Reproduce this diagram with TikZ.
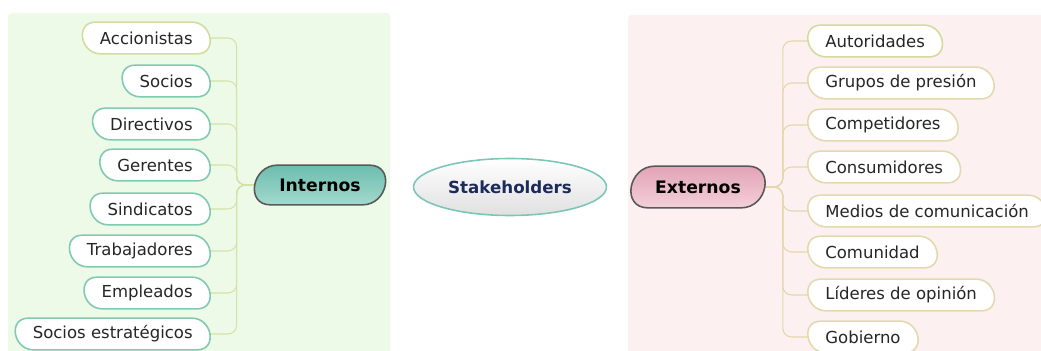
\documentclass[tikz,border=0pt]{standalone}
\usepackage{fontspec}
\setmainfont{DejaVu Sans}
\usetikzlibrary{shapes,shapes.geometric,calc}

\definecolor{ingreen}{HTML}{EEFAE8}
\definecolor{expink}{HTML}{FDF0F1}
\definecolor{inline}{HTML}{D3E3A6}
\definecolor{exline}{HTML}{E2D8AA}
\definecolor{tealline}{HTML}{80CBB0}
\definecolor{limeline}{HTML}{D3DC9C}
\definecolor{tanline}{HTML}{E2DAAE}
\definecolor{tealdark}{HTML}{6CBDAE}
\definecolor{teallight}{HTML}{A3DACE}
\definecolor{pinkdark}{HTML}{E2A3B5}
\definecolor{pinklight}{HTML}{F4D0DA}
\definecolor{navy}{HTML}{1C2A5C}
\definecolor{ellline}{HTML}{7CC6B7}

\pgfdeclarelayer{panel}
\pgfdeclarelayer{outline}
\pgfsetlayers{panel,outline,main}

% leaf outline, leaning like "\": #1 node, #2 half height, #3 lean, #4 style
\newcommand{\leafline}[4]{%
  \begin{pgfonlayer}{outline}
    \path[#4] ($(#1.north west)+(#2-#3,0)$) -- ($(#1.north east)+(-#2-#3,0)$)
      .. controls +(1.33*#2,0) and +(1.33*#2,0) .. ($(#1.south east)+(-#2+#3,0)$)
      -- ($(#1.south west)+(#2+#3,0)$)
      .. controls +(-1.33*#2,0) and +(-1.33*#2,0) .. ($(#1.north west)+(#2-#3,0)$) -- cycle;
  \end{pgfonlayer}}

\begin{document}
\begin{tikzpicture}[x=0.02cm,y=-0.02cm]
				\tikzstyle{leaf}=[font=\fontsize{9.4}{11}\selectfont, text=black!85, inner xsep=0.34cm, inner ysep=0pt, minimum height=0.62cm]
				\tikzstyle{hub}=[font=\bfseries\fontsize{9.8}{12}\selectfont, inner sep=0pt, minimum width=2.6cm, minimum height=0.78cm]
				\tikzstyle{leafedge}=[line width=0.9pt, fill=white]
				\tikzstyle{hubedge}=[line width=0.9pt, draw=black!65]
				\tikzstyle{lbranch}=[draw=inline, line width=0.6pt, rounded corners=5pt]
				\tikzstyle{rbranch}=[draw=exline, line width=0.6pt, rounded corners=5pt]
				\useasboundingbox (0,0) rectangle (1041,351);

				% the two side panels
				\begin{pgfonlayer}{panel}
					\fill[ingreen, rounded corners=2pt] (8,13) rectangle (390,360);
					\fill[expink, rounded corners=2pt] (628,15) rectangle (1050,360);
				\end{pgfonlayer}

				% centre
				\node[ellipse, draw=ellline, line width=0.9pt, top color=white, bottom color=black!12,
					minimum width=3.86cm, minimum height=1.14cm, inner sep=0pt,
					font=\bfseries\fontsize{9.5}{12}\selectfont, text=navy] (stk) at (510,187) {Stakeholders};

				% internal side
				\node[hub] (int) at (320,185) {Internos};
				\leafline{int}{11pt}{-2pt}{hubedge, top color=tealdark, bottom color=teallight}
				\foreach \n/\t/\y/\c in {acc/Accionistas/38/limeline, soc/Socios/81/tealline,
					dir/Directivos/124/tealline, ger/Gerentes/165/tealline, sin/Sindicatos/209/tealline,
					tra/Trabajadores/251/tealline, emp/Empleados/293/tealline,
					est/Socios estratégicos/334/tealline}{
					\node[leaf, anchor=east] (\n) at (210,\y) {\t};
					\leafline{\n}{8.8pt}{1.5pt}{leafedge, draw=\c}
					\begin{pgfonlayer}{panel}
						\path[lbranch] (\n.east) -| ([xshift=-0.36cm]int.west) -- (int.west);
					\end{pgfonlayer}
				}

				% external side
				\node[hub, minimum width=2.66cm, minimum height=0.82cm] (ext) at (698,187) {Externos};
				\leafline{ext}{11.5pt}{-2pt}{hubedge, top color=pinkdark, bottom color=pinklight}
				\foreach \n/\t/\y/\c in {aut/Autoridades/41/limeline, gru/Grupos de presión/83/tanline,
					cpt/Competidores/125/tanline, con/Consumidores/167/tanline,
					med/Medios de comunicación/211/tanline, cmn/Comunidad/252/tanline,
					lid/Líderes de opinión/295/tanline, gob/Gobierno/337/tanline}{
					\node[leaf, anchor=west] (\n) at (808,\y) {\t};
					\leafline{\n}{8.8pt}{1.5pt}{leafedge, draw=\c}
					\begin{pgfonlayer}{panel}
						\path[rbranch] (ext.east) -- ([xshift=0.36cm]ext.east) |- (\n.west);
					\end{pgfonlayer}
				}
			\end{tikzpicture}
\end{document}
